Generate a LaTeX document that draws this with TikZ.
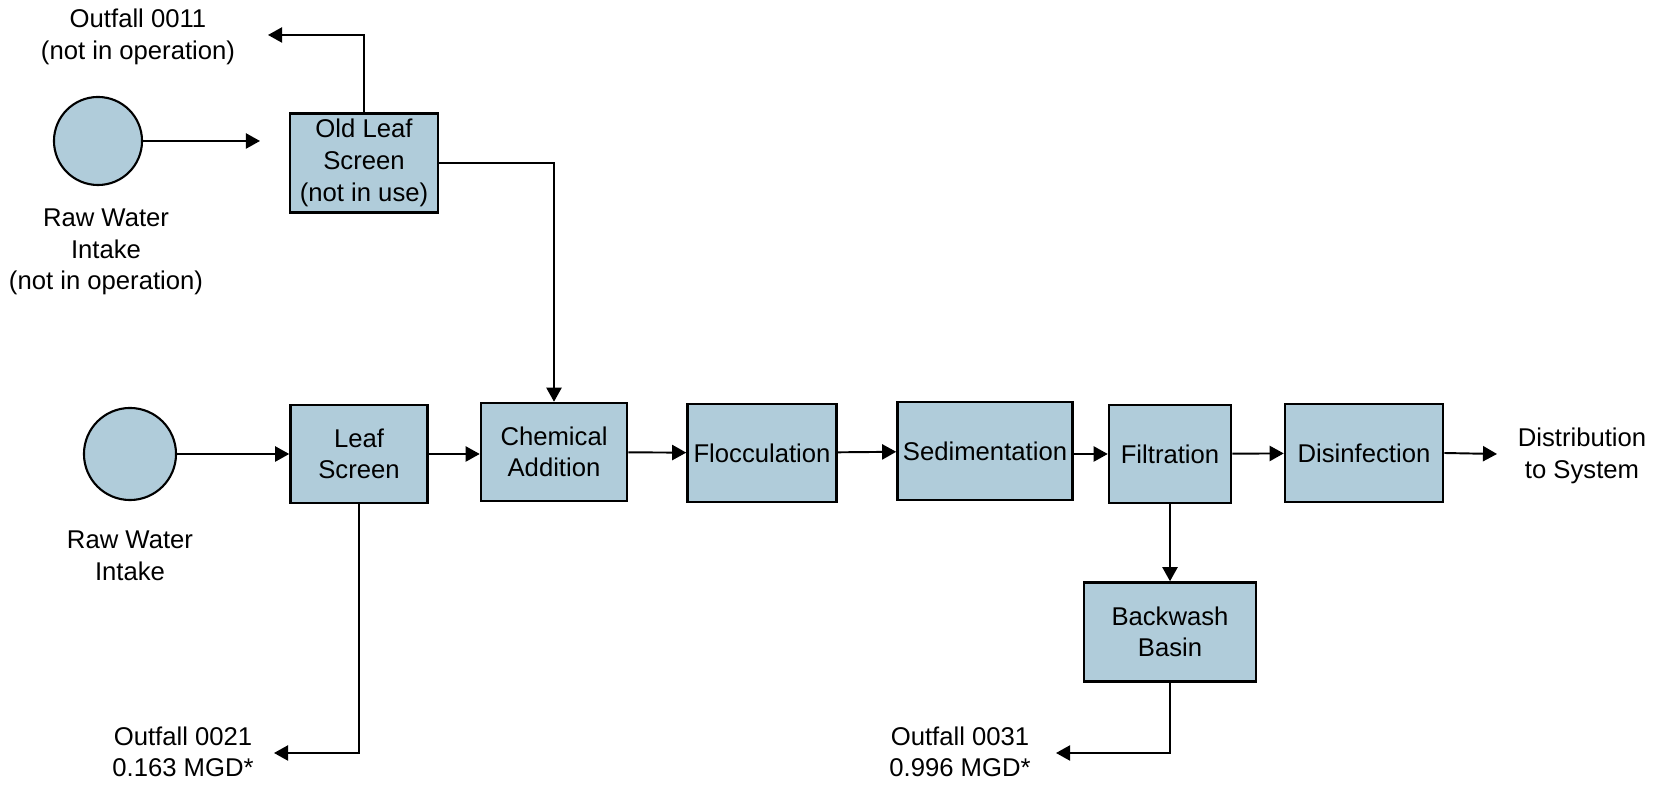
\documentclass[tikz,border=0pt]{standalone}
\usepackage{fontspec}
\setmainfont{Liberation Sans}
\usetikzlibrary{arrows.meta,positioning}
\definecolor{boxblue}{HTML}{B0CCDA}

\begin{document}
\begin{tikzpicture}[x=0.01cm,y=-0.01cm,
	every node/.style={font=\fontsize{7.3}{9}\selectfont, align=center},
	stage/.style={draw=black, line width=0.7pt, fill=boxblue, inner sep=0pt, minimum height=0.98cm},
	intake/.style={circle, draw=black, line width=0.6pt, fill=boxblue, inner sep=0pt, minimum size=0.88cm},
	flow/.style={line width=0.55pt, -{Triangle[length=4pt,width=4.3pt]}}]
	\useasboundingbox (0,0) rectangle (1667,786);

	% old intake (not in operation)
	\node[intake] (oldintake) at (98,141) {};
	\node (oldintaketxt) at (106,252) {Raw Water\\Intake\\(not in operation)};
	\node[stage, minimum width=1.48cm, minimum height=0.99cm] (oldscreen) at (364,163) {Old Leaf\\Screen\\(not in use)};
	\node (out11txt) at (138,37) {Outfall 0011\\(not in operation)};
	\coordinate (oldgap) at (260,141);
	\coordinate (out11) at (268,35);

	% main treatment train
	\node[intake, minimum size=0.92cm] (intake) at (130,454) {};
	\node (intaketxt) at (130,556) {Raw Water\\Intake};
	\node[stage, minimum width=1.37cm] (leaf) at (359,454) {Leaf\\Screen};
	\node[stage, minimum width=1.46cm] (chem) at (554,452) {Chemical\\Addition};
	\node[stage, minimum width=1.49cm] (floc) at (762,453) {Flocculation};
	\node[stage, minimum width=1.75cm] (sed) at (985,451) {Sedimentation};
	\node[stage, minimum width=1.22cm] (filt) at (1170,454) {Filtration};
	\node[stage, minimum width=1.58cm] (disinf) at (1364,453) {Disinfection};
	\node (disttxt) at (1582,456) {Distribution\\to System};
	\coordinate (dist) at (1497,454);

	% backwash and outfalls
	\node[stage, minimum width=1.72cm, minimum height=0.99cm] (basin) at (1170,632) {Backwash\\Basin};
	\node (out21txt) at (183,752) {Outfall 0021\\0.163 MGD*};
	\node (out31txt) at (960,752) {Outfall 0031\\0.996 MGD*};
	\coordinate (out21) at (274,753);
	\coordinate (out31) at (1056,753);

	% connectors
	\draw[flow] (oldintake) -- (oldgap);
	\draw[flow] (oldscreen.north) |- (out11);
	\draw[flow] (oldscreen.east) -| (chem.north);
	\draw[flow] (intake) -- (leaf);
	\draw[flow] (leaf.east) -- (chem.west |- leaf.east);
	\draw[flow] (chem) -- (floc);
	\draw[flow] (floc) -- (sed);
	\draw[flow] (sed.east |- filt.west) -- (filt.west);
	\draw[flow] (filt) -- (disinf);
	\draw[flow] (disinf.east) -- (dist);
	\draw[flow] (filt) -- (basin);
	\draw[flow] (leaf.south) |- (out21);
	\draw[flow] (basin.south) |- (out31);
\end{tikzpicture}
\end{document}
